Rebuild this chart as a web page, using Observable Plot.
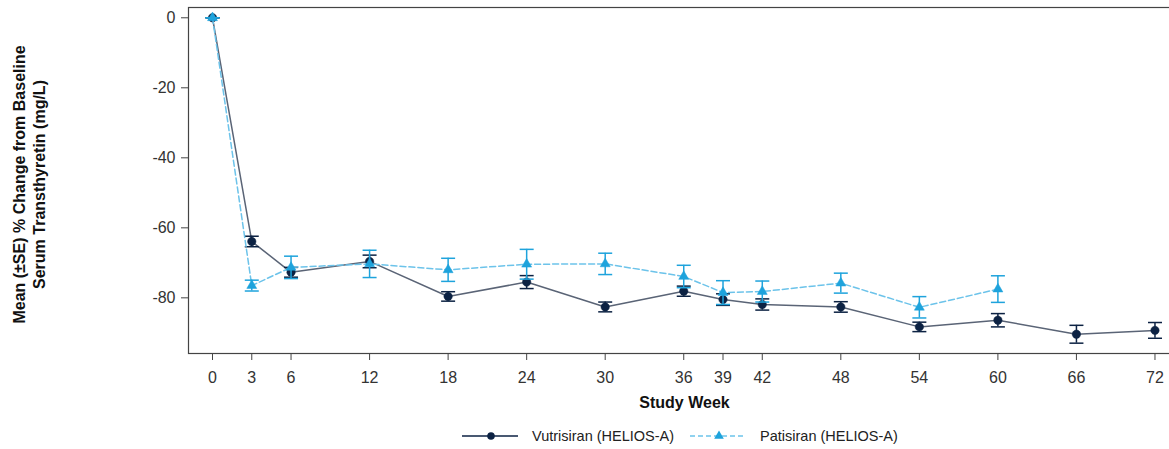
<!DOCTYPE html>
<html>
<head>
<meta charset="utf-8">
<script src="https://cdn.jsdelivr.net/npm/d3@7"></script>
<script src="https://cdn.jsdelivr.net/npm/@observablehq/plot@0.6"></script>
<style>
  html, body { margin: 0; padding: 0; background: #fff; overflow: hidden; width: 1169px; height: 449px; }
  body { font-family: "Liberation Sans", Arial, sans-serif; }
  #chart { width: 1169px; overflow: hidden; }
  #chart svg { display: block; max-width: none !important; }
  .legend { display: flex; align-items: center; height: 32px; margin-left: 462px; font-size: 14.5px; color: #222; white-space: nowrap; }
  .legend .item { display: flex; align-items: center; }
  .legend svg { display: block; }
  .legend .lab { margin-left: 14px; }
</style>
</head>
<body>
<div id="chart"></div>
<div class="legend" id="legend"></div>
<script>
// ---- data ----
const seriesNames = ["Vutrisiran (HELIOS-A)", "Patisiran (HELIOS-A)"];
const xTicks = [0, 3, 6, 12, 18, 24, 30, 36, 39, 42, 48, 54, 60, 66, 72];
const yTicks = [0, -20, -40, -60, -80];

const vutriWeeks = [0, 3, 6, 12, 18, 24, 30, 36, 39, 42, 48, 54, 60, 66, 72];
const vutriMean  = [0, -63.9, -72.7, -69.6, -79.6, -75.5, -82.6, -78.1, -80.5, -81.9, -82.6, -88.3, -86.4, -90.4, -89.3];
const vutriSE    = [0, 1.5, 1.4, 1.8, 1.35, 1.85, 1.4, 1.45, 1.65, 1.6, 1.5, 1.35, 1.9, 2.55, 2.25];

const patiWeeks = [0, 3, 6, 12, 18, 24, 30, 36, 39, 42, 48, 54, 60];
const patiMean  = [0, -76.5, -71.3, -70.3, -72.0, -70.4, -70.3, -73.9, -78.5, -78.2, -75.8, -82.7, -77.5];
const patiSE    = [0, 1.55, 3.2, 3.9, 3.3, 4.25, 3.05, 3.2, 3.4, 3.0, 2.85, 3.05, 3.8];

const yLabel = "Mean (±SE) % Change from Baseline\nSerum Transthyretin (mg/L)";
const xLabel = "Study Week";

// ---- build tables ----
const vutri = vutriWeeks.map((w, i) => ({week: w, mean: vutriMean[i], se: vutriSE[i]}));
const pati = patiWeeks.map((w, i) => ({week: w, mean: patiMean[i], se: patiSE[i]}));

const navy = "#0c2243";
const navyLine = "#5a6476";
const blue = "#1ea3dc";
const blueLine = "#6cc3ea";

const cap = {draw(ctx) { ctx.moveTo(-7, 0); ctx.lineTo(7, 0); }};

function errorMarks(data, color) {
  return [
    Plot.ruleX(data, {x: "week", y1: d => d.mean - d.se, y2: d => d.mean + d.se, stroke: color, strokeWidth: 1.5}),
    Plot.dot(data, {x: "week", y: d => d.mean + d.se, symbol: cap, stroke: color, fill: "none", strokeWidth: 1.5}),
    Plot.dot(data, {x: "week", y: d => d.mean - d.se, symbol: cap, stroke: color, fill: "none", strokeWidth: 1.5})
  ];
}

const chart = Plot.plot({
  width: 1180,
  height: 420,
  marginTop: 7,
  marginBottom: 67,
  marginLeft: 188,
  marginRight: 0,
  style: {fontFamily: "Liberation Sans, Arial, sans-serif", fontSize: "16px", color: "#333", background: "#fff", maxWidth: "none"},
  x: {domain: [-1.834, 73.95], label: null},
  y: {domain: [-95.9, 2.94], label: null},
  marks: [
    Plot.frame({stroke: "#444", strokeWidth: 1.2}),
    Plot.axisX({ticks: xTicks, tickSize: 7, tickPadding: 11, label: null, stroke: "#444", fill: "#333", fontSize: 16}),
    Plot.axisY({ticks: yTicks, tickSize: 7, tickPadding: 6, label: null, tickFormat: d => d.toString(), stroke: "#444", fill: "#333", fontSize: 16}),
    // Vutrisiran
    Plot.line(vutri, {x: "week", y: "mean", stroke: navyLine, strokeWidth: 1.5}),
    ...errorMarks(vutri, navy),
    Plot.dot(vutri, {x: "week", y: "mean", r: 4.2, fill: navy, stroke: navy, strokeWidth: 0.5}),
    // Patisiran
    Plot.line(pati, {x: "week", y: "mean", stroke: blueLine, strokeWidth: 1.5, strokeDasharray: "6,3"}),
    ...errorMarks(pati, blue),
    Plot.dot(pati, {x: "week", y: "mean", symbol: "triangle", r: 3.7, fill: blue, stroke: blue, strokeWidth: 0.5}),
    // axis titles
    Plot.text([0], {frameAnchor: "left", dx: -160, dy: 4, rotate: -90, text: () => yLabel, fontWeight: "bold", fontSize: 16, lineHeight: 1.25, textAnchor: "middle", fill: "#111"}),
    Plot.text([0], {frameAnchor: "bottom", dy: 54, text: () => xLabel, fontWeight: "bold", fontSize: 16, fill: "#111"})
  ]
});
chart.style.maxWidth = "none";
document.getElementById("chart").appendChild(chart);

// ---- legend ----
const legend = document.getElementById("legend");
function swatch(dashed, marker) {
  const ns = "http://www.w3.org/2000/svg";
  const s = document.createElementNS(ns, "svg");
  s.setAttribute("width", 56); s.setAttribute("height", 14);
  const l = document.createElementNS(ns, "line");
  l.setAttribute("x1", 0); l.setAttribute("x2", 56); l.setAttribute("y1", 7); l.setAttribute("y2", 7);
  l.setAttribute("stroke", dashed ? blueLine : navy);
  l.setAttribute("stroke-width", 1.3);
  if (dashed) l.setAttribute("stroke-dasharray", "5,3");
  s.appendChild(l);
  const p = document.createElementNS(ns, "path");
  p.setAttribute("d", d3.symbol(marker === "triangle" ? d3.symbolTriangle : d3.symbolCircle, marker === "triangle" ? 40 : 45)());
  p.setAttribute("transform", "translate(29,7)");
  p.setAttribute("fill", marker === "triangle" ? blue : navy);
  s.appendChild(p);
  return s;
}
const items = [
  {name: seriesNames[0], dashed: false, marker: "circle"},
  {name: seriesNames[1], dashed: true, marker: "triangle"}
];
items.forEach((it, i) => {
  const div = document.createElement("div");
  div.className = "item";
  if (i > 0) div.style.marginLeft = "16px";
  div.appendChild(swatch(it.dashed, it.marker));
  const t = document.createElement("span");
  t.className = "lab";
  t.textContent = it.name;
  div.appendChild(t);
  legend.appendChild(div);
});
</script>
</body>
</html>
